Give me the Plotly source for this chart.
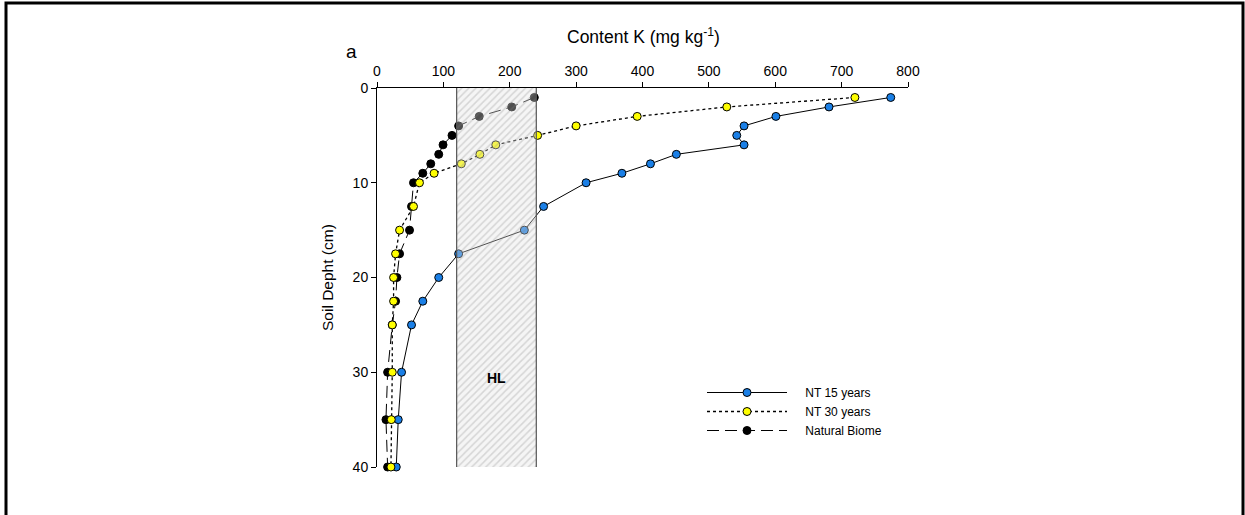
import plotly.graph_objects as go

# ---- data ----
depth_nt15 = [1, 2, 3, 4, 5, 6, 7, 8, 9, 10, 12.5, 15, 17.5, 20, 22.5, 25, 30, 35, 40]
k_nt15 = [774, 681, 601, 553, 542, 553, 451, 412, 369, 315, 251, 222, 123, 93, 69, 52, 37, 32, 29]

depth_nt30 = [1, 2, 3, 4, 5, 6, 7, 8, 9, 10, 12.5, 15, 17.5, 20, 22.5, 25, 30, 35, 40]
k_nt30 = [720, 527, 392, 300, 242, 179, 155, 127, 86, 64, 55, 34, 28, 25, 25, 23, 23, 21.5, 21]

depth_nat = [1, 2, 3, 4, 5, 6, 7, 8, 9, 10, 12.5, 15, 17.5, 20, 22.5, 25, 30, 35, 40]
k_nat = [237, 203, 154, 123, 113, 99.5, 93, 81, 69, 55, 52, 49, 34, 30, 28, 23, 16, 13.5, 16]

hl_range = [120, 240]       # high level (HL) band of K content
depth_range = [0, 40]
x_ticks = [0, 100, 200, 300, 400, 500, 600, 700, 800]
y_ticks = [0, 10, 20, 30, 40]

FONT = "Liberation Sans, Arial, sans-serif"
W, H = 1245, 515
ML, MR, MT, MB = 377, 337, 88, 48
PW, PH = W - ML - MR, H - MT - MB
NB = "\u00a0"

def px_x(px):
    return (px - ML) / PW

def px_y(py):
    return 1 - (py - MT) / PH

fig = go.Figure()

fig.add_trace(go.Scatter(
    x=k_nt15, y=depth_nt15, name=NB * 4 + "NT 15 years", mode="lines+markers",
    line=dict(color="black", width=1), cliponaxis=False, legendrank=1,
    marker=dict(size=8, color="#1a7fe6", line=dict(color="black", width=1))))
fig.add_trace(go.Scatter(
    x=k_nat, y=depth_nat, name=NB * 4 + "Natural Biome", mode="lines+markers",
    line=dict(color="black", width=1, dash="12px,6px"), cliponaxis=False, legendrank=3,
    marker=dict(size=8, color="black", line=dict(color="black", width=1))))
fig.add_trace(go.Scatter(
    x=k_nt30, y=depth_nt30, name=NB * 4 + "NT 30 years", mode="lines+markers",
    line=dict(color="black", width=1.3, dash="dot"), cliponaxis=False, legendrank=2,
    marker=dict(size=8, color="#ffff00", line=dict(color="black", width=1))))

# hatched HL band (drawn on top, semi-transparent)
fig.add_trace(go.Scatter(
    x=[hl_range[0], hl_range[1], hl_range[1], hl_range[0]],
    y=[depth_range[0], depth_range[0], depth_range[1], depth_range[1]],
    fill="toself", mode="lines", line=dict(width=0),
    fillcolor="rgba(225,225,225,0.35)",
    fillpattern=dict(shape="/", size=5, solidity=0.3,
                     fgcolor="rgba(130,130,130,0.55)", bgcolor="rgba(225,225,225,0.35)"),
    showlegend=False, hoverinfo="skip"))
fig.add_trace(go.Scatter(
    x=[hl_range[0], hl_range[0], None, hl_range[1], hl_range[1]],
    y=[depth_range[0], depth_range[1], None, depth_range[0], depth_range[1]],
    mode="lines", line=dict(color="#555555", width=1.2),
    showlegend=False, hoverinfo="skip"))

fig.update_layout(
    width=W, height=H,
    margin=dict(l=ML, r=MR, t=MT, b=MB),
    paper_bgcolor="white", plot_bgcolor="white",
    font=dict(family=FONT, size=14, color="black"),
    xaxis=dict(side="top", range=[0, 800], tickvals=x_ticks,
               ticks="outside", ticklen=5, tickwidth=1, tickcolor="black",
               showline=True, linecolor="black", linewidth=1,
               showgrid=False, zeroline=False, tickfont=dict(size=14)),
    yaxis=dict(range=[40, 0], tickvals=y_ticks,
               ticks="outside", ticklen=5, tickwidth=1, tickcolor="black",
               showline=True, linecolor="black", linewidth=1,
               showgrid=False, zeroline=False, tickfont=dict(size=14)),
    legend=dict(x=px_x(702), y=px_y(378), xanchor="left", yanchor="top",
                bgcolor="rgba(0,0,0,0)", font=dict(size=12, family=FONT),
                itemwidth=80, traceorder="normal", tracegroupgap=0),
    showlegend=True,
)

fig.add_annotation(text="Content K (mg kg<sup>-1</sup>)", x=px_x(643), y=px_y(36),
                   xref="paper", yref="paper", showarrow=False,
                   font=dict(size=17.5, family=FONT), xanchor="center", yanchor="middle")
fig.add_annotation(text="Soil Depht (cm)", x=px_x(327), y=px_y(278),
                   xref="paper", yref="paper", showarrow=False, textangle=-90,
                   font=dict(size=15.5, family=FONT), xanchor="center", yanchor="middle")
fig.add_annotation(text="a", x=px_x(351), y=px_y(51),
                   xref="paper", yref="paper", showarrow=False,
                   font=dict(size=19, family=FONT), xanchor="center", yanchor="middle")
fig.add_annotation(text="<b>HL</b>", x=(hl_range[0] + hl_range[1]) / 2, y=30.6,
                   xref="x", yref="y", showarrow=False,
                   font=dict(size=14, family=FONT), xanchor="center", yanchor="middle")

# outer frame (left, top, right edges)
fig.add_shape(type="rect", xref="paper", yref="paper",
              x0=px_x(6), x1=px_x(1243), y0=px_y(560), y1=px_y(3),
              line=dict(color="black", width=3), fillcolor="rgba(0,0,0,0)", layer="above")

fig.write_html("out.html", config={"displayModeBar": False},
               post_script="document.body.style.margin='0';")
